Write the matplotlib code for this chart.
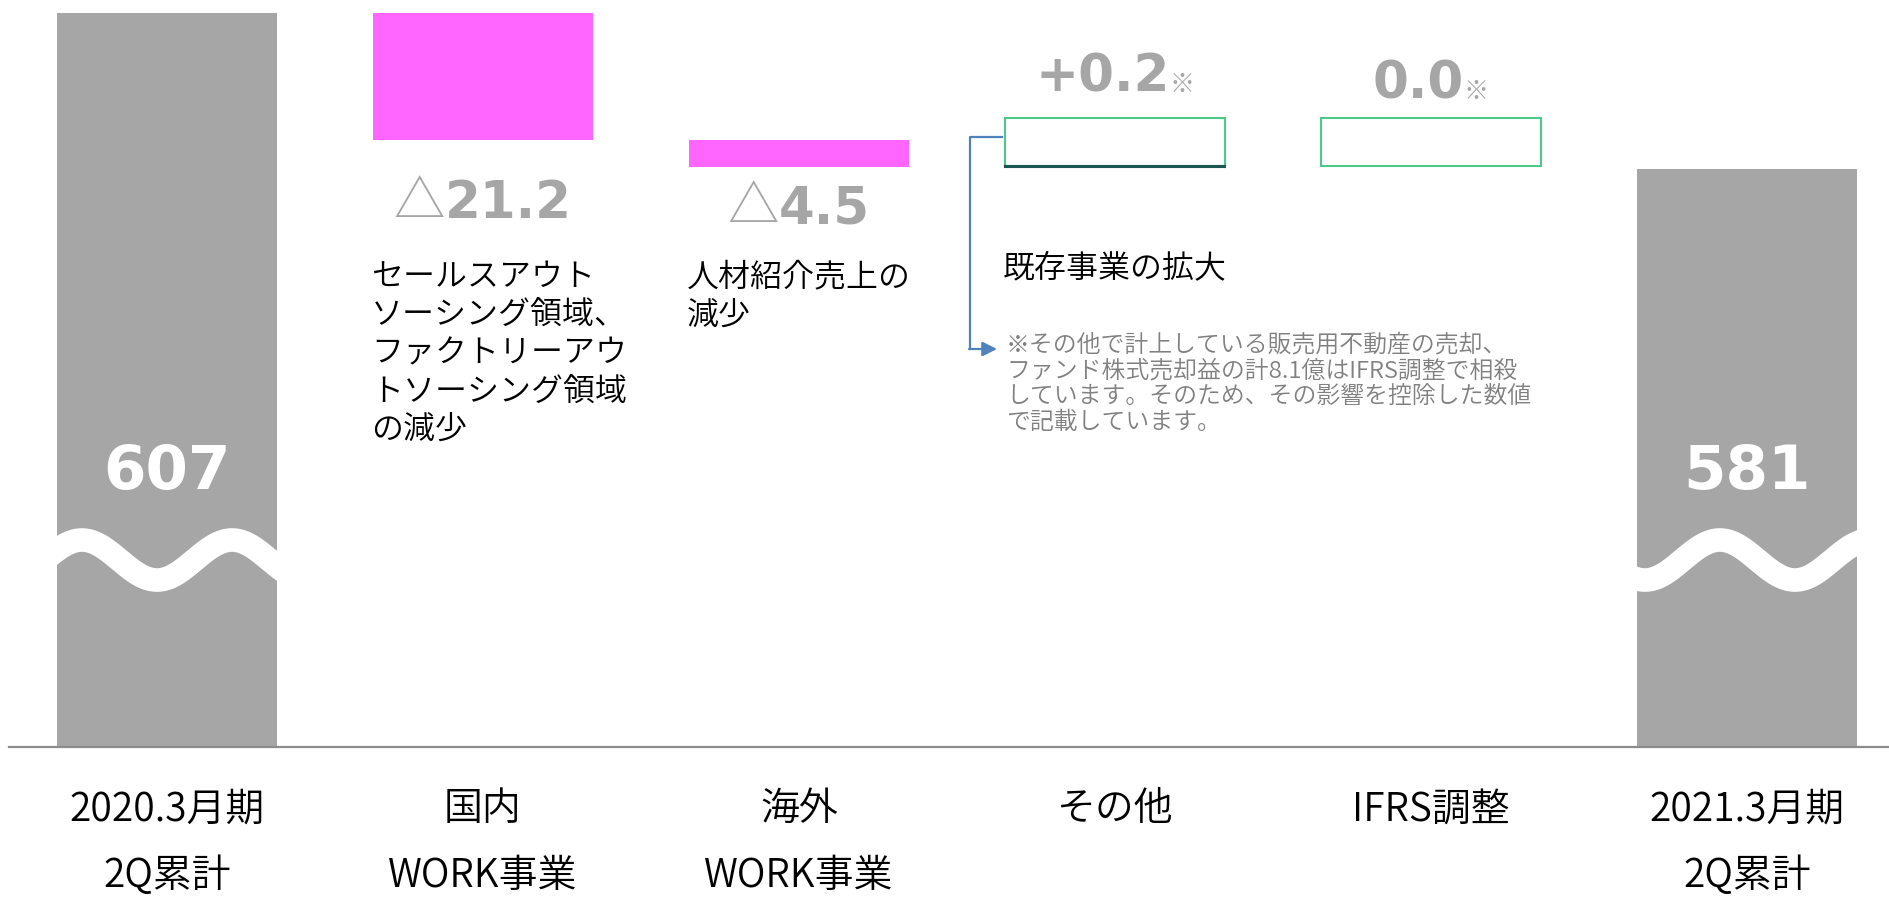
import numpy as np
import matplotlib
matplotlib.use("Agg")
import matplotlib.pyplot as plt
import matplotlib.transforms as mtransforms
from matplotlib.offsetbox import TextArea, HPacker, AnnotationBbox

plt.rcParams["font.family"] = ["Noto Sans CJK JP", "DejaVu Sans"]
plt.rcParams["font.weight"] = 350

# data
labels_top = ["2020.3月期", "国内", "海外", "その他", "IFRS調整", "2021.3月期"]
labels_bottom = ["2Q累計", "WORK事業", "WORK事業", "", "", "2Q累計"]
start_value = 607
end_value = 581
deltas = [-21.2, -4.5, 0.2, 0.0]
delta_texts = ["△21.2", "△4.5", "+0.2", "0.0"]
descriptions = [
    "セールスアウト\nソーシング領域、\nファクトリーアウ\nトソーシング領域\nの減少",
    "人材紹介売上の\n減少",
    "既存事業の拡大",
    "",
]
footnote = ("※その他で計上している販売用不動産の売却、\n"
            "ファンド株式売却益の計8.1億はIFRS調整で相殺\n"
            "しています。そのため、その影響を控除した数値\n"
            "で記載しています。")

# styles
GRAY = "#a6a6a6"
PINK = "#ff66ff"
GREEN = "#4cc98a"
DARK = "#1d5550"
BLUE = "#4f81bd"
W, H = 1889, 900
bar_w = 0.696

fig = plt.figure(figsize=(W / 100, H / 100), dpi=100)
ax = fig.add_axes([9 / W, (H - 747) / H, (W - 9) / W, 747 / H])
ax.set_xlim(-0.5, 5.45)
ax.set_ylim(start_value - 734 / 6.0, start_value + 13 / 6.0)
for s in ["top", "left", "right"]:
    ax.spines[s].set_visible(False)
ax.spines["bottom"].set_color("#8c8c8c")
ax.spines["bottom"].set_linewidth(1.6)
ax.set_xticks([])
ax.set_yticks([])

# pixel transform (from top-left of figure)
tpx = mtransforms.Affine2D().scale(1 / W, -1 / H).translate(0, 1) + fig.transFigure
xpx = mtransforms.blended_transform_factory(ax.transData, tpx)
xax = ax.get_xaxis_transform()

# totals
n = len(deltas)
total_bars = ax.bar([0, n + 1], [start_value, end_value], width=bar_w, color=GRAY, zorder=2)

running = start_value
steps = []
for i, d in enumerate(deltas):
    new = running + d
    steps.append((i + 1, min(running, new), abs(d), d, new))
    running = new

box_h = 8.0
for x, bottom, height, d, new in steps:
    if d < 0:
        ax.bar(x, height, bottom=bottom, width=bar_w, color=PINK, zorder=2)
    else:
        ax.bar(x, box_h, bottom=new, width=bar_w, facecolor="white",
               edgecolor=GREEN, linewidth=1.5, zorder=2)
        if d > 0:
            ax.bar(x, height, bottom=bottom, width=bar_w, color=DARK,
                   edgecolor=DARK, linewidth=1.5, zorder=3)


def piece_label(x, y, pieces, dy):
    areas = [TextArea(s, textprops=p) for s, p in pieces]
    box = HPacker(children=areas, align="baseline", pad=0, sep=0)
    ab = AnnotationBbox(box, (x, y), xybox=(0, dy), xycoords="data",
                        boxcoords="offset pixels", frameon=False,
                        box_alignment=(0.5, 0.5), pad=0)
    ax.add_artist(ab)


num_style = dict(color=GRAY, fontsize=37, fontweight="bold", family="DejaVu Sans")
tri_style = dict(color=GRAY, fontsize=37, family="Noto Sans CJK JP")
note_style = dict(color=GRAY, fontsize=18, family="Noto Sans CJK JP")
label_dy = [-63, -41, 40, 33]
for (x, bottom, height, d, new), txt, dy in zip(steps, delta_texts, label_dy):
    if d < 0:
        piece_label(x, bottom, [(txt[0], tri_style), (txt[1:], num_style)], dy)
    else:
        piece_label(x, new + box_h, [(txt, num_style), ("※", note_style)], dy)

# totals labels
for x, v in zip([0, n + 1], [start_value, end_value]):
    ax.text(x, 0.368, str(v), transform=xax, ha="center", va="center",
            color="white", fontsize=44, fontweight="bold", family="DejaVu Sans", zorder=5)

# wave breaks
wave_crest = [-0.269, -0.085]
for rect, cx, crest in zip(total_bars, [0, n + 1], wave_crest):
    xs = np.linspace(cx - 0.45, cx + 0.45, 200)
    ys = 0.2503 + 0.0268 * np.cos(2 * np.pi * (xs - cx - crest) / 0.475)
    line, = ax.plot(xs, ys, transform=xax, color="white", lw=17,
                    solid_capstyle="butt", zorder=4)
    line.set_clip_path(rect)

# category labels
for i, (t, b) in enumerate(zip(labels_top, labels_bottom)):
    ax.text(i, 809, t, transform=xpx, ha="center", va="center", fontsize=28, color="black")
    if b:
        ax.text(i, 876, b, transform=xpx, ha="center", va="center", fontsize=28, color="black")

# descriptions
desc_top = [261, 261, 252, 0]
for (x, bottom, height, d, new), desc, top in zip(steps, descriptions, desc_top):
    if desc:
        ax.text(x - bar_w / 2 - 0.006, top, desc, transform=xpx, ha="left", va="top",
                fontsize=23, color="black", linespacing=1.21)

# footnote and connector
ax.text(1006, 333, footnote, transform=tpx, ha="left", va="top",
        fontsize=17.2, color="#808080", linespacing=1.17)
ax.plot([1002, 970, 970], [137, 137, 349], transform=tpx, color=BLUE, lw=1.6,
        clip_on=False)
ax.annotate("", xy=(997, 349), xytext=(969, 349), xycoords=tpx, textcoords=tpx,
            arrowprops=dict(arrowstyle="-|>", color=BLUE, lw=1.6, mutation_scale=22,
                            shrinkA=0, shrinkB=0))

fig.savefig("out.png", dpi=100)
